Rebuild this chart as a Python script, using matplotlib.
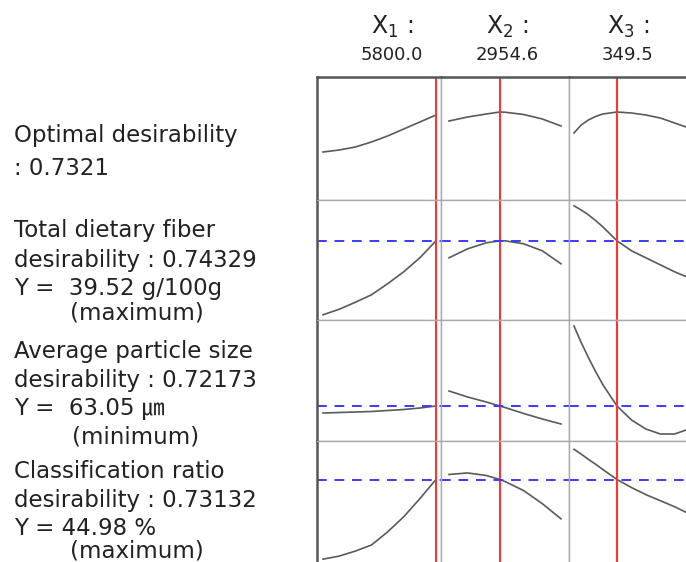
import matplotlib
matplotlib.use("Agg")
import matplotlib.pyplot as plt

plt.rcParams['font.family'] = ['DejaVu Sans', 'Noto Sans CJK KR']

# factor settings (columns) and optimum
factor_names = ["X_1", "X_2", "X_3"]
factor_opt = [5800.0, 2954.6, 349.5]
x1_vals = [3000, 3400, 3800, 4200, 4600, 5000, 5400, 5800]
x2_vals = [2000, 2350, 2700, 2954.6, 3050, 3400, 3750, 4100]
x3_vals = [200, 225, 250, 275, 300, 349.5, 400, 450, 500, 550, 600]

# composite desirability
comp_x1 = [0.33, 0.35, 0.38, 0.43, 0.49, 0.56, 0.63, 0.70]
comp_x2 = [0.64, 0.68, 0.71, 0.73, 0.728, 0.705, 0.66, 0.59]
comp_x3 = [0.52, 0.60, 0.65, 0.685, 0.71, 0.73, 0.72, 0.70, 0.67, 0.62, 0.57]

# total dietary fiber (g/100g)
tdf_x1 = [32.12, 32.67, 33.37, 34.12, 35.22, 36.42, 37.82, 39.52]
tdf_x2 = [37.82, 38.72, 39.32, 39.52, 39.52, 39.22, 38.52, 37.22]
tdf_x3 = [43.02, 42.6, 42.12, 41.55, 40.92, 39.52, 38.52, 37.82, 37.12, 36.42, 35.82]
tdf_opt = 39.52

# average particle size (um)
ps_x1 = [62.35, 62.40, 62.45, 62.50, 62.60, 62.70, 62.85, 63.05]
ps_x2 = [64.55, 63.95, 63.45, 63.05, 62.90, 62.30, 61.75, 61.25]
ps_x3 = [71.05, 69.4, 67.9, 66.5, 65.2, 63.05, 61.65, 60.75, 60.25, 60.25, 60.75]
ps_opt = 63.05

# classification ratio (%)
cr_x1 = [37.08, 37.38, 37.88, 38.48, 39.78, 41.28, 43.08, 44.98]
cr_x2 = [45.48, 45.63, 45.38, 44.98, 44.78, 43.88, 42.58, 41.08]
cr_x3 = [47.98, 47.5, 46.98, 46.5, 45.98, 44.98, 44.18, 43.48, 42.88, 42.28, 41.58]
cr_opt = 44.98

x_lists = [x1_vals, x2_vals, x3_vals]
rows = [
    ([comp_x1, comp_x2, comp_x3], None, (-0.15, 1.08)),
    ([tdf_x1, tdf_x2, tdf_x3], tdf_opt, (31.6, 43.6)),
    ([ps_x1, ps_x2, ps_x3], ps_opt, (59.55, 71.65)),
    ([cr_x1, cr_x2, cr_x3], cr_opt, (36.4, 48.8)),
]
x_limits = [(2851, 5924), (1850, 4250), (182.6, 627.8)]

left_lines = [
    ("Optimal desirability", 14, 142),
    (": 0.7321", 14, 175),
    ("Total dietary fiber", 14, 237),
    ("desirability : 0.74329", 14, 267),
    ("Y =  39.52 g/100g", 14, 295),
    ("(maximum)", 70, 319),
    ("Average particle size", 14, 358),
    ("desirability : 0.72173", 14, 387),
    ("Y =  63.05 \u339b", 14, 415),
    ("(minimum)", 72, 443),
    ("Classification ratio", 14, 478),
    ("desirability : 0.73132", 14, 507),
    ("Y = 44.98 %", 14, 535),
    ("(maximum)", 70, 557),
]

W, H = 686, 562
fig = plt.figure(figsize=(W / 100, H / 100), dpi=100)
fig.patch.set_facecolor("white")

col_edges = [317, 441, 569, 697]
row_edges = [77, 200, 320, 441, 566]

for r, (series, opt, ylim) in enumerate(rows):
    for c in range(3):
        x0, x1 = col_edges[c], col_edges[c + 1]
        y0, y1 = row_edges[r], row_edges[r + 1]
        ax = fig.add_axes([x0 / W, 1 - y1 / H, (x1 - x0) / W, (y1 - y0) / H])
        ax.plot(x_lists[c], series[c], color="#5a5a5a", lw=1.2)
        ax.axvline(factor_opt[c], color="#ff3333", lw=1.5)
        if opt is not None:
            ax.axhline(opt, color="#3a3aff", lw=1.4, ls=(0, (5, 4)))
        ax.set_xlim(*x_limits[c])
        ax.set_ylim(*ylim)
        ax.set_xticks([])
        ax.set_yticks([])
        for s in ax.spines.values():
            s.set_color("#aaaaaa")
            s.set_linewidth(1.0)
        if c == 0:
            ax.spines["left"].set_color("#555555")
            ax.spines["left"].set_linewidth(1.8)
        if r == 0:
            ax.spines["top"].set_color("#555555")
            ax.spines["top"].set_linewidth(1.8)

# column headers
header_x = [392, 507, 628]
for c in range(3):
    fig.text(header_x[c] / W, 1 - 34 / H, "$\\mathregular{%s}$ :" % factor_names[c],
             ha="center", va="baseline", fontsize=17, color="#222222")
    fig.text(header_x[c] / W, 1 - 60 / H, "%.1f" % factor_opt[c],
             ha="center", va="baseline", fontsize=13, color="#222222")

for txt, x, y in left_lines:
    fig.text(x / W, 1 - y / H, txt, ha="left", va="baseline", fontsize=16.5, color="#222222")

fig.savefig("out.png", dpi=100)
